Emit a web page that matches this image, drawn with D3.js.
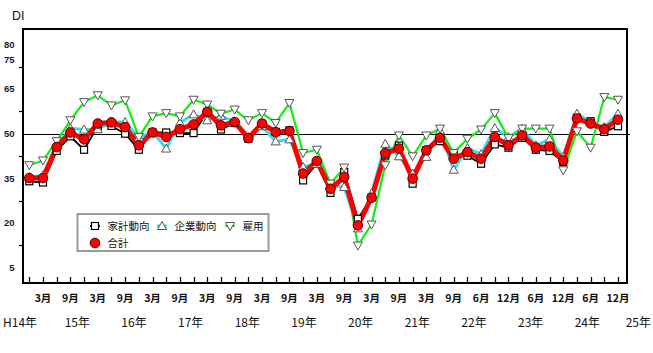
<!DOCTYPE html>
<meta charset="utf-8">
<script src="https://d3js.org/d3.v7.min.js"></script>
<style>
  body { margin: 0; background: #fff; }
  text { font-family: "Noto Sans CJK JP", "Liberation Sans", sans-serif; fill: #111; }
</style>
<div id="my_dataviz"></div>
<script>

// quarterly points, index 0 = H14 Dec
var household = [34.0, 33.6, 44.2, 49.1, 44.6, 52.6, 52.6, 50.0, 44.6, 50.4,
                 50.4, 50.2, 50.2, 57.3, 51.4, 53.6, 48.3, 53.3, 50.6, 51.1,
                 34.3, 39.9, 30.1, 37.1, 21.4, 28.6, 42.7, 46.0, 33.2, 44.4,
                 47.5, 43.1, 42.6, 39.9, 46.4, 45.3, 48.6, 44.6, 44.2, 40.5,
                 55.4, 54.2, 50.6, 52.5];
var business  = [35.4, 36.0, 46.1, 51.8, 51.4, 51.5, 53.9, 53.9, 48.7, 50.6,
                 45.0, 53.7, 56.5, 54.5, 56.0, 54.0, 48.8, 52.5, 47.4, 48.1,
                 38.8, 39.9, 32.6, 32.1, 18.2, 30.0, 46.6, 42.4, 36.6, 42.2,
                 51.1, 37.9, 45.2, 43.1, 51.9, 48.9, 51.7, 46.1, 48.1, 42.2,
                 56.7, 53.9, 52.2, 56.7];
var employment = [39.4, 41.0, 47.5, 54.5, 60.6, 62.9, 59.5, 61.2, 48.9, 55.8,
                  56.9, 55.8, 61.4, 59.8, 56.7, 58.1, 54.5, 56.9, 53.6, 60.3,
                  43.5, 44.6, 33.2, 38.6, 12.4, 19.5, 39.4, 49.4, 42.4, 49.4,
                  51.7, 43.5, 48.3, 51.4, 56.9, 48.5, 51.7, 51.7, 51.7, 37.7,
                  50.8, 45.3, 62.3, 61.4];
var total     = [35.1, 35.1, 45.5, 50.4, 48.1, 53.4, 53.8, 52.2, 46.1, 50.4,
                 48.9, 51.5, 53.1, 57.3, 52.8, 53.9, 48.5, 53.4, 50.5, 50.9,
                 36.6, 40.8, 31.5, 35.4, 19.2, 28.5, 43.5, 45.0, 34.9, 44.4,
                 48.6, 41.6, 43.8, 41.6, 48.9, 46.1, 49.4, 45.3, 45.7, 41.0,
                 55.1, 53.4, 51.5, 54.7];

var monthIdx  = [1, 3, 5, 7, 9, 11, 13, 15, 17, 19, 21, 23, 25, 27, 29, 31,
                 33, 35, 37, 39, 41, 43];
var monthText = ["3月", "9月", "3月", "9月", "3月", "9月", "3月", "9月", "3月", "9月",
                 "3月", "9月", "3月", "9月", "3月", "9月",
                 "6月", "12月", "6月", "12月", "6月", "12月"];
var years     = [14, 15, 16, 17, 18, 19, 20, 21, 22, 23, 24, 25];
var yearText  = ["H14年", "15年", "16年", "17年", "18年", "19年", "20年",
                 "21年", "22年", "23年", "24年", "25年"];
var yLabels   = [80, 75, 65, 50, 35, 20, 5];
var yTicks    = [12.5, 27.5, 42.5, 57.5, 72.5];

var W = 653, H = 353;
var plot = {left: 23, top: 29, right: 627, bottom: 283};

var svg = d3.select("#my_dataviz")
  .append("svg")
    .attr("width", W)
    .attr("height", H);

var x = d3.scaleLinear().domain([0, 43]).range([29.3, 618]);
var y = d3.scaleLinear().domain([0, 85]).range([282.5, 29.5]);
var yearX = d3.scaleLinear().domain([15, 24]).range([90, 600]);

// y labels and ticks
svg.selectAll("ylab")
  .data(yLabels)
  .enter()
  .append("text")
    .attr("x", 14.5)
    .attr("y", function(d) { return y(d); })
    .attr("dy", "0.35em")
    .attr("text-anchor", "end")
    .style("font-family", "Liberation Sans, Arial, sans-serif")
    .style("font-weight", "bold")
    .style("font-size", "9.5px")
    .style("fill", "#1a1a33")
    .text(function(d) { return d; });

svg.selectAll("ytick")
  .data(yTicks)
  .enter()
  .append("line")
    .attr("x1", plot.left - 4).attr("x2", plot.left)
    .attr("y1", function(d) { return Math.round(y(d)) + 0.5; })
    .attr("y2", function(d) { return Math.round(y(d)) + 0.5; })
    .attr("stroke", "#000").attr("stroke-width", 1.2);

svg.append("text")
  .attr("x", 12).attr("y", 19.5)
  .style("font-family", "Liberation Sans, Arial, sans-serif")
  .style("font-size", "12.5px")
  .text("DI");

// 50 reference line
svg.append("line")
  .attr("x1", plot.left).attr("x2", plot.right + 3)
  .attr("y1", Math.round(y(50)) + 0.5).attr("y2", Math.round(y(50)) + 0.5)
  .attr("stroke", "#000").attr("stroke-width", 1.2);

// x ticks
svg.selectAll("xtick")
  .data(d3.range(0, 44))
  .enter()
  .append("line")
    .attr("x1", function(d) { return Math.round(x(d)) + 0.5; })
    .attr("x2", function(d) { return Math.round(x(d)) + 0.5; })
    .attr("y1", plot.bottom - 6).attr("y2", plot.bottom)
    .attr("stroke", "#000").attr("stroke-width", 1.3);

// frame
svg.append("rect")
  .attr("x", plot.left).attr("y", plot.top)
  .attr("width", plot.right - plot.left).attr("height", plot.bottom - plot.top)
  .attr("fill", "none").attr("stroke", "#000").attr("stroke-width", 2);

// month labels
svg.selectAll("mlab")
  .data(monthIdx)
  .enter()
  .append("text")
    .attr("x", function(d) { return x(d); })
    .attr("y", 301.5)
    .attr("text-anchor", "middle")
    .style("font-size", "10.5px")
    .style("font-weight", "bold")
    .text(function(d, i) { return monthText[i]; });

// year labels, kept inside the picture
svg.selectAll("ylabyear")
  .data(years)
  .enter()
  .append("text")
    .attr("x", function(d) { return yearX(d); })
    .attr("y", 326.5)
    .attr("text-anchor", "end")
    .style("font-size", "12px")
    .text(function(d, i) { return yearText[i]; })
    .each(function() {
      var t = d3.select(this), w = this.getComputedTextLength(), xe = +t.attr("x");
      if (xe - w < 3) t.attr("x", 3 + w);
      if (xe > 651) t.attr("x", 651);
    });

var series = [
  {name: "家計動向", values: household, color: "#000000", width: 1.8, mark: "square"},
  {name: "企業動向", values: business, color: "#33ddee", width: 3, mark: "tri"},
  {name: "雇用", values: employment, color: "#11ee11", width: 2.2, mark: "itri"},
  {name: "合計", values: total, color: "#ff0000", width: 5, mark: "circle"}
];

var line = d3.line()
  .x(function(d, i) { return x(i); })
  .y(function(d) { return y(d); });

// all lines first, then all markers
series.forEach(function(s) {
  svg.append("path")
    .datum(s.values)
    .attr("d", line)
    .attr("fill", "none")
    .attr("stroke", s.color)
    .attr("stroke-width", s.width)
    .attr("stroke-linejoin", "round");
});

function drawMark(g, kind, cx, cy) {
  if (kind === "square") {
    g.append("rect").attr("x", cx - 3.5).attr("y", cy - 3.5).attr("width", 7).attr("height", 7)
      .attr("fill", "#fff").attr("stroke", "#000").attr("stroke-width", 1.2);
  } else if (kind === "tri") {
    g.append("path").attr("d", "M" + cx + "," + (cy - 4.5) + "L" + (cx + 4.5) + "," + (cy + 3.5) + "L" + (cx - 4.5) + "," + (cy + 3.5) + "Z")
      .attr("fill", "#fff").attr("stroke", "#555").attr("stroke-width", 1);
  } else if (kind === "itri") {
    g.append("path").attr("d", "M" + cx + "," + (cy + 4.5) + "L" + (cx + 4.5) + "," + (cy - 3.5) + "L" + (cx - 4.5) + "," + (cy - 3.5) + "Z")
      .attr("fill", "#fff").attr("stroke", "#555").attr("stroke-width", 1);
  } else {
    g.append("circle").attr("cx", cx).attr("cy", cy).attr("r", 4.8)
      .attr("fill", "#ff0000").attr("stroke", "#550000").attr("stroke-width", 1);
  }
}

series.forEach(function(s) {
  var g = svg.append("g");
  s.values.forEach(function(v, i) { drawMark(g, s.mark, x(i), y(v)); });
});

// legend
var lg = svg.append("g");
lg.append("rect")
  .attr("x", 77.5).attr("y", 214).attr("width", 191).attr("height", 37)
  .attr("fill", "#fff").attr("stroke", "#999").attr("stroke-width", 2);

var legendPos = [[95, 226], [162, 226], [230, 226], [95, 243]];
series.forEach(function(s, i) {
  var px = legendPos[i][0], py = legendPos[i][1];
  lg.append("line")
    .attr("x1", px - 5).attr("x2", px + 5).attr("y1", py).attr("y2", py)
    .attr("stroke", s.color).attr("stroke-width", Math.min(s.width, 3));
  drawMark(lg, s.mark, px, py);
  lg.append("text")
    .attr("x", px + 12.5).attr("y", py)
    .attr("dy", "0.36em")
    .style("font-size", "10.5px")
    .text(s.name);
});

</script>
